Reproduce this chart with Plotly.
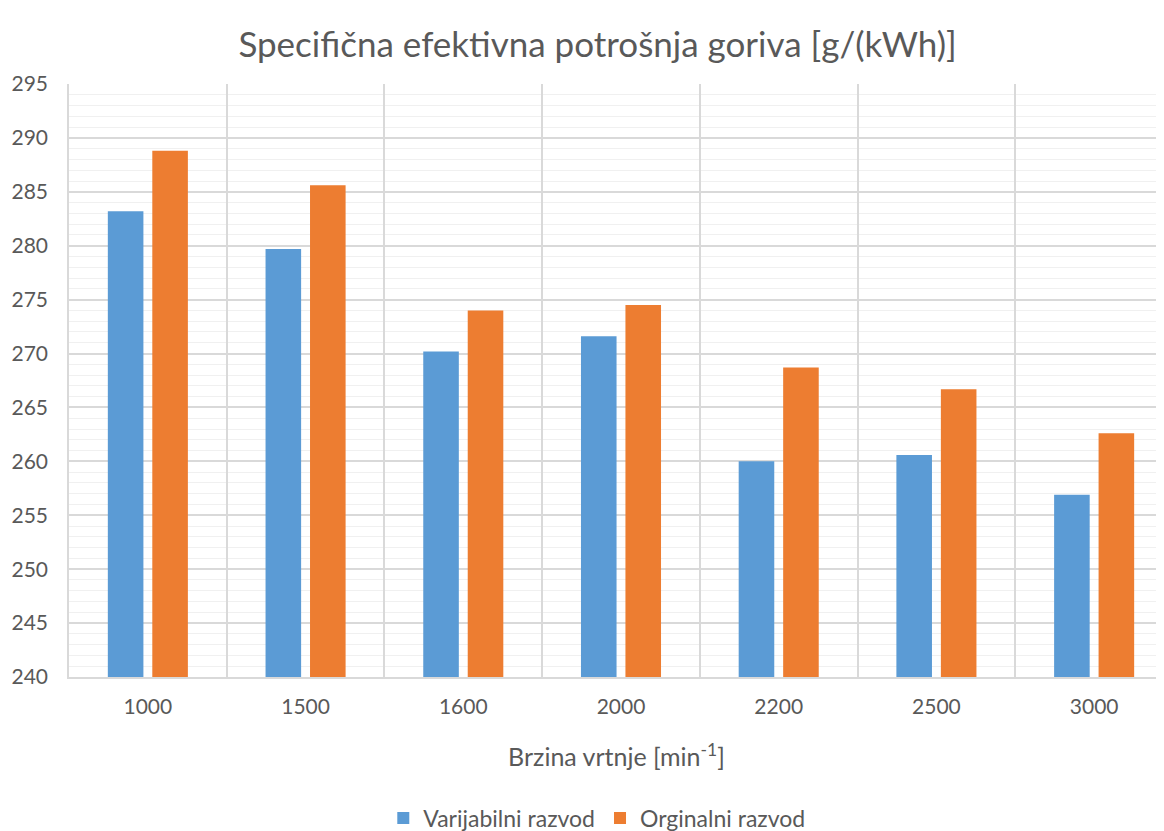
import plotly.graph_objects as go

# data
speeds = ["1000", "1500", "1600", "2000", "2200", "2500", "3000"]
varijabilni = [283.2, 279.7, 270.2, 271.6, 260.0, 260.6, 256.9]
orginalni = [288.8, 285.6, 274.0, 274.5, 268.7, 266.7, 262.6]

FONT = "Lato"
GREY = "#595959"

fig = go.Figure()
fig.add_trace(go.Bar(x=speeds, y=varijabilni, name="Varijabilni razvod",
                     marker=dict(color="#5b9bd5", line=dict(width=0))))
fig.add_trace(go.Bar(x=speeds, y=orginalni, name="Orginalni razvod",
                     marker=dict(color="#ed7d31", line=dict(width=0))))

# page body has an 8px margin, so the figure is a bit smaller than the window
fig.update_layout(
    width=1156, height=823,
    margin=dict(l=61, r=0, t=76, b=154, autoexpand=False),
    paper_bgcolor="white", plot_bgcolor="white",
    font=dict(family=FONT, color=GREY, size=21),
    title=dict(text="Specifična efektivna potrošnja goriva [g/(kWh)]",
               x=0.51, xanchor="center", y=0.955, yanchor="middle",
               font=dict(size=35, color=GREY, family=FONT)),
    barmode="group", bargap=0.436, bargroupgap=0.2,
    showlegend=True,
    legend=dict(orientation="h", x=0.482, xanchor="center", y=-0.238, yanchor="middle",
                font=dict(size=23, color=GREY), traceorder="normal"),
)

fig.update_xaxes(
    type="category", range=[-0.5, 6.443], tickson="boundaries",
    showgrid=True, gridcolor="#d9d9d9", gridwidth=1.5,
    showline=True, linecolor="#d9d9d9", linewidth=1.5,
    ticks="", ticklabelstandoff=10, zeroline=False, automargin=False,
    title=dict(text="Brzina vrtnje [min<sup>-1</sup>]", font=dict(size=25, color=GREY), standoff=32),
)
fig.update_yaxes(
    range=[240, 295], dtick=5, tick0=240,
    showgrid=True, gridcolor="#d9d9d9", gridwidth=1.5,
    minor=dict(dtick=1, showgrid=True, gridcolor="#f0f0f0", gridwidth=1),
    showline=True, linecolor="#d9d9d9", linewidth=1.5,
    ticks="", zeroline=False, ticklabelstandoff=15, automargin=False,
)

fig.write_html("out.html")
